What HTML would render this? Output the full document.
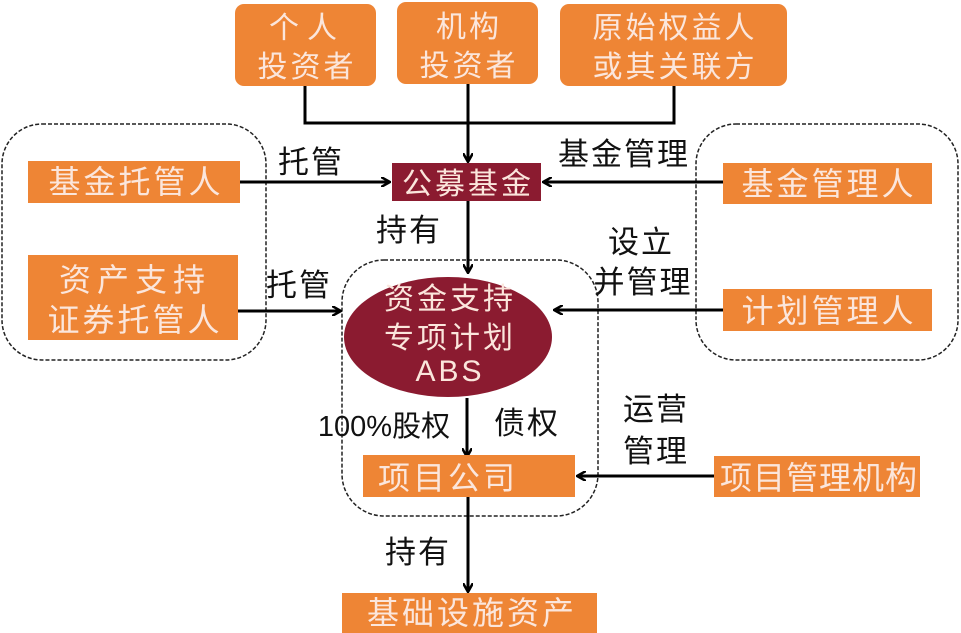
<!DOCTYPE html>
<html><head><meta charset="utf-8"><style>
html,body{margin:0;padding:0;background:#fff;width:961px;height:633px;overflow:hidden}
svg text{font-family:"Liberation Sans","Noto Sans CJK SC",sans-serif}
.b{fill:#ee8535}
.w{fill:#fbe6dc;font-size:30px;text-anchor:middle;letter-spacing:3px}
.k{fill:#111;font-size:31px;text-anchor:middle;letter-spacing:2px}
.l{stroke:#000;stroke-width:3;fill:none}
.d{stroke:#222;stroke-width:1.5;fill:none;stroke-dasharray:4 2}
</style></head><body>
<svg width="961" height="633" viewBox="0 0 961 633" xmlns="http://www.w3.org/2000/svg">
<defs><marker id="a" markerWidth="10" markerHeight="10" refX="8" refY="5" orient="auto" markerUnits="userSpaceOnUse"><path d="M0,0 L9,5 L0,10" fill="none" stroke="#000" stroke-width="2.5"/></marker></defs>
<rect class="d" x="2" y="124" width="264" height="236" rx="40"/>
<rect class="d" x="696" y="124" width="262" height="236" rx="40"/>
<rect class="d" x="342" y="260" width="256" height="256" rx="42"/>
<rect class="b" x="235" y="4" width="141" height="82" rx="9"/>
<rect class="b" x="397" y="2" width="141" height="82" rx="9"/>
<rect class="b" x="560" y="4" width="227" height="82" rx="9"/>
<text class="w" x="307" y="38" style="letter-spacing:8px">个人</text><text class="w" x="307" y="77">投资者</text>
<text class="w" x="469" y="37">机构</text><text class="w" x="469" y="76">投资者</text>
<text class="w" x="675" y="38">原始权益人</text><text class="w" x="675" y="77">或其关联方</text>
<path class="l" d="M305,86 V123 H674 V86"/>
<path class="l" d="M468,84 V161" marker-end="url(#a)"/>
<rect class="b" x="28" y="161" width="212" height="42"/>
<text class="w" x="136" y="193" style="font-size:32px">基金托管人</text>
<rect class="b" x="28" y="255" width="210" height="85"/>
<text class="w" x="135" y="291" style="font-size:32px;letter-spacing:6px">资产支持</text><text class="w" x="135" y="331" style="font-size:32px">证券托管人</text>
<rect x="392" y="163" width="149" height="38" fill="#8b1b30"/>
<text class="w" x="468" y="194">公募基金</text>
<rect class="b" x="723" y="163" width="209" height="41"/>
<text class="w" x="829" y="195" style="font-size:32px">基金管理人</text>
<rect class="b" x="723" y="289" width="209" height="42"/>
<text class="w" x="829" y="322" style="font-size:32px">计划管理人</text>
<path class="l" d="M240,182 H389" marker-end="url(#a)"/>
<text class="k" x="311" y="173">托管</text>
<path class="l" d="M723,182 H544" marker-end="url(#a)"/>
<text class="k" x="624" y="165">基金管理</text>
<path class="l" d="M468,201 V272" marker-end="url(#a)"/>
<text class="k" x="409" y="241">持有</text>
<path class="l" d="M238,311 H340" marker-end="url(#a)"/>
<text class="k" x="299" y="296">托管</text>
<path class="l" d="M723,310 H555" marker-end="url(#a)"/>
<text class="k" x="641" y="253">设立</text><text class="k" x="643" y="293">并管理</text>
<ellipse cx="448" cy="337" rx="104" ry="60" fill="#8b1b30"/>
<text class="w" x="450" y="309">资金支持</text>
<text class="w" x="450" y="348">专项计划</text>
<text class="w" x="450" y="381">ABS</text>
<path class="l" d="M467,398 V456" marker-end="url(#a)"/>
<text class="k" x="384" y="436" style="font-size:29px;letter-spacing:0">100%股权</text>
<text class="k" x="527" y="434">债权</text>
<rect class="b" x="363" y="455" width="212" height="42"/>
<text class="w" x="448" y="489" style="font-size:32px">项目公司</text>
<rect class="b" x="714" y="456" width="206" height="41"/>
<text class="w" x="819" y="489" style="font-size:32px;letter-spacing:1px">项目管理机构</text>
<path class="l" d="M714,476 H578" marker-end="url(#a)"/>
<text class="k" x="656" y="420">运营</text><text class="k" x="656" y="462">管理</text>
<path class="l" d="M468,497 V591" marker-end="url(#a)"/>
<text class="k" x="418" y="563">持有</text>
<rect class="b" x="342" y="593" width="255" height="40"/>
<text class="w" x="472" y="624" style="font-size:32px">基础设施资产</text>
</svg>
</body></html>
